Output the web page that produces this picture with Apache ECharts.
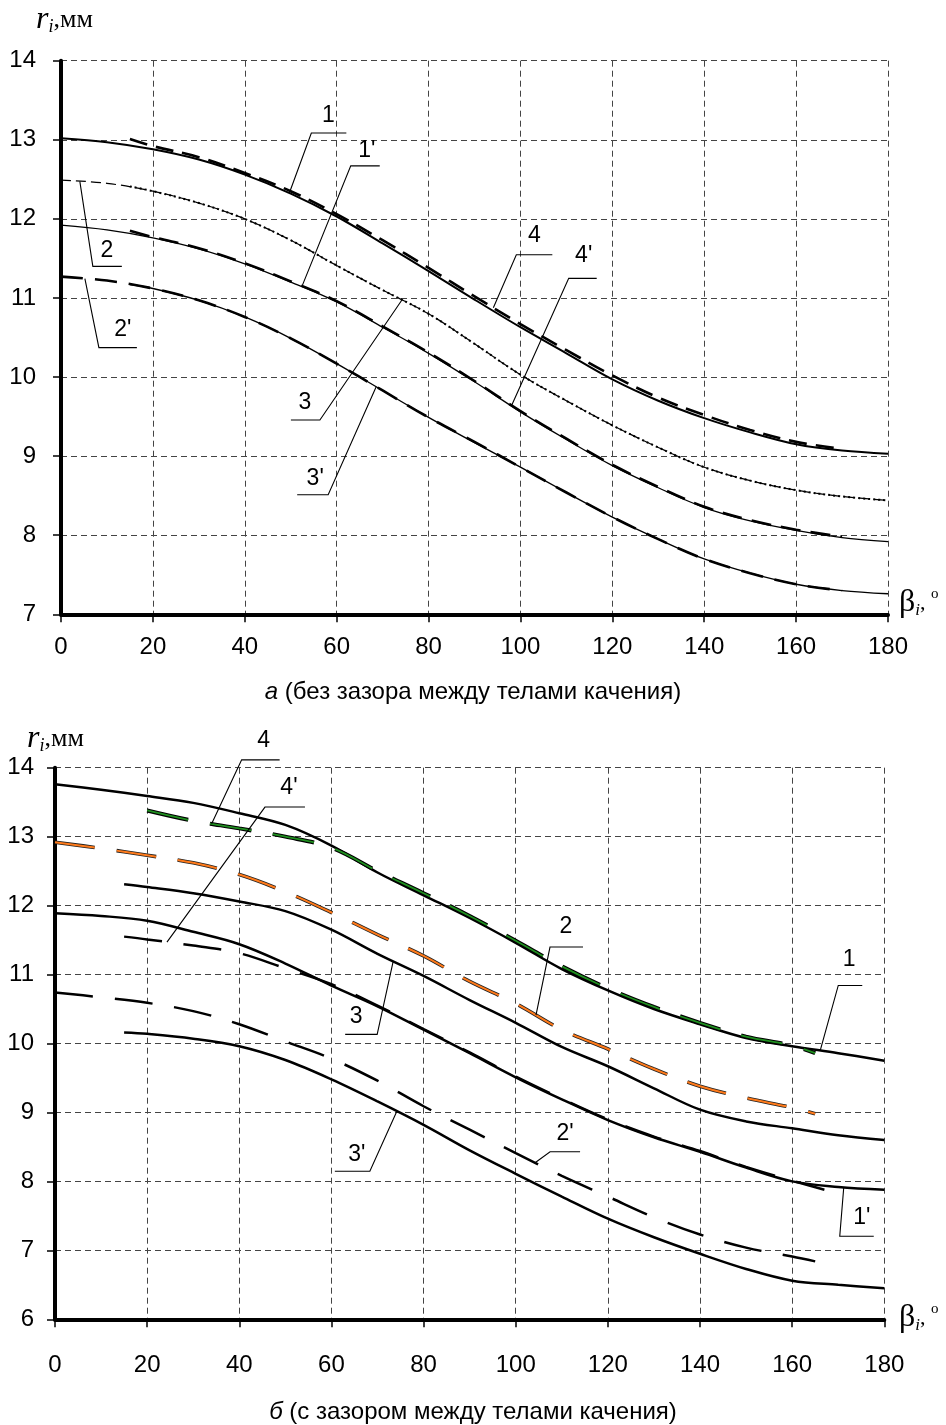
<!DOCTYPE html>
<html>
<head>
<meta charset="utf-8">
<script src="https://cdn.jsdelivr.net/npm/echarts@6/dist/echarts.min.js"></script>
<style>
html,body{margin:0;padding:0;background:#fff;}
#c{width:946px;height:1425px;}
</style>
</head>
<body>
<div id="c"></div>
<script>
// ---------- DATA ----------
const xTicks = [0, 20, 40, 60, 80, 100, 120, 140, 160, 180];
const yTicksA = [7, 8, 9, 10, 11, 12, 13, 14];
const yTicksB = [6, 7, 8, 9, 10, 11, 12, 13, 14];

// Chart "а" (без зазора)
const xA_full = [0,10,20,30,40,50,60,70,80,90,100,110,120,130,140,150,160,170,180];
const xA_15_170 = [15,20,30,40,50,60,70,80,90,100,110,120,130,140,150,160,170];
const xA_15_180 = [15,20,30,40,50,60,70,80,90,100,110,120,130,140,150,160,170,180];
const xA_0_170 = [0,10,20,30,40,50,60,70,80,90,100,110,120,130,140,150,160,170];

const a1  = [13.02,12.97,12.88,12.75,12.56,12.32,12.03,11.69,11.34,10.98,10.63,10.30,9.97,9.70,9.48,9.30,9.15,9.07,9.03];
const a4  = [13.01,12.92,12.78,12.58,12.35,12.06,11.73,11.38,11.02,10.67,10.34,10.02,9.74,9.52,9.33,9.18,9.09];
const a2  = [12.49,12.45,12.35,12.20,12.00,11.73,11.41,11.10,10.80,10.42,10.03,9.70,9.39,9.11,8.86,8.69,8.57,8.49,8.44];
const a3  = [12.41,12.35,12.20,12.00,11.73,11.41,11.10,10.80,10.42,10.03,9.70,9.39,9.11,8.86,8.69,8.57,8.49,8.44];
const a1p = [11.92,11.86,11.76,11.62,11.43,11.20,10.95,10.63,10.30,9.94,9.56,9.21,8.88,8.60,8.35,8.18,8.06,7.97,7.92];
const a4p = [11.85,11.77,11.63,11.44,11.21,10.96,10.64,10.31,9.95,9.57,9.22,8.89,8.61,8.36,8.19,8.07,7.98];
const a2p = [11.27,11.22,11.12,10.97,10.76,10.49,10.17,9.83,9.49,9.18,8.86,8.54,8.23,7.95,7.70,7.52,7.38,7.30];
const a3p = [11.17,11.12,10.97,10.76,10.49,10.17,9.83,9.49,9.17,8.86,8.54,8.23,7.95,7.70,7.52,7.38,7.30,7.26];

// Chart "б" (с зазором)
const xB_full = [0,10,20,30,40,50,60,70,80,90,100,110,120,130,140,150,160,170,180];
const xB4  = [20,30,40,50,60,70,80,90,100,110,120,130,140,150,160,165];
const xB2  = [0,10,20,30,40,50,60,70,80,90,100,110,120,130,140,150,160,165];
const xB3  = [15,20,30,40,50,60,70,80,90,100,110,120,130,140,150,160,170,180];
const xB4p = [15,20,30,40,50,60,70,80,90,100,110,120,130,140,150,160,167];
const xB2p = [0,10,20,30,40,50,60,70,80,90,100,110,120,130,140,150,160,165];
const xB3p = [15,20,30,40,50,60,70,80,90,100,110,120,130,140,150,160,170,180];

const b1  = [13.76,13.68,13.59,13.49,13.34,13.17,12.87,12.48,12.15,11.82,11.46,11.08,10.77,10.50,10.28,10.08,9.96,9.86,9.75];
const b4  = [13.38,13.23,13.12,13.00,12.84,12.50,12.18,11.85,11.49,11.12,10.80,10.53,10.30,10.10,9.97,9.86];
const b2  = [12.92,12.83,12.73,12.62,12.45,12.20,11.90,11.58,11.27,10.90,10.58,10.20,9.92,9.63,9.38,9.21,9.07,8.98];
const b3  = [12.31,12.27,12.18,12.06,11.92,11.65,11.30,10.98,10.63,10.30,9.95,9.67,9.35,9.04,8.87,8.77,8.67,8.60];
const b1p = [11.89,11.85,11.78,11.62,11.44,11.16,10.84,10.54,10.20,9.86,9.51,9.19,8.89,8.64,8.43,8.20,8.00,7.92,7.88];
const b4p = [11.55,11.51,11.42,11.31,11.09,10.86,10.55,10.21,9.87,9.52,9.20,8.90,8.65,8.44,8.21,8.01,7.88];
const b2p = [10.74,10.67,10.59,10.47,10.28,10.03,9.78,9.46,9.09,8.75,8.41,8.08,7.78,7.48,7.23,7.04,6.91,6.84];
const b3p = [10.16,10.14,10.07,9.96,9.76,9.48,9.16,8.82,8.45,8.11,7.78,7.46,7.19,6.95,6.73,6.56,6.50,6.45];

// Curve labels: text, curve it points to, abscissa of the pointed spot
const labelsA = [
  {t:'1',  curve:'a1',  x:49.7}, {t:"1'", curve:'a1p', x:52.4},
  {t:'2',  curve:'a2',  x:4.1},  {t:"2'", curve:'a2p', x:5.2},
  {t:'4',  curve:'a4',  x:94.1}, {t:"4'", curve:'a4p', x:98.1},
  {t:'3',  curve:'a3',  x:74.2}, {t:"3'", curve:'a3p', x:68.6}
];
const labelsB = [
  {t:'4',  curve:'b4',  x:34.0}, {t:"4'", curve:'b4p', x:24.3},
  {t:'3',  curve:'b3',  x:73.4}, {t:"3'", curve:'b3p', x:74.2},
  {t:'2',  curve:'b2',  x:104.4},{t:'1',  curve:'b1',  x:166.1},
  {t:"2'", curve:'b2p', x:104.2},{t:"1'", curve:'b1p', x:171.2}
];

// ---------- LAYOUT / STYLE ----------
const curves = {
  a1:[xA_full,a1], a4:[xA_15_170,a4], a2:[xA_full,a2], a3:[xA_15_180,a3],
  a1p:[xA_full,a1p], a4p:[xA_15_170,a4p], a2p:[xA_0_170,a2p], a3p:[xA_15_180,a3p],
  b1:[xB_full,b1], b4:[xB4,b4], b2:[xB2,b2], b3:[xB3,b3],
  b1p:[xB_full,b1p], b4p:[xB4p,b4p], b2p:[xB2p,b2p], b3p:[xB3p,b3p]
};
// leader geometry in pixels relative to pointed spot: elbow, underline end, text centre
const leaderA = [
  {e:[22,-60],  u:[57,-60],  tx:[39,-77]},
  {e:[49,-121], u:[78,-121], tx:[65,-136]},
  {e:[13,85],   u:[42,85],   tx:[27,69]},
  {e:[14,69],   u:[52,69],   tx:[38,51]},
  {e:[23,-53],  u:[59,-53],  tx:[41,-72]},
  {e:[57,-127], u:[85,-127], tx:[72,-150]},
  {e:[-82,120], u:[-111,120],tx:[-97,103]},
  {e:[-48,108], u:[-79,108], tx:[-61,92]}
];
const leaderB = [
  {e:[30,-64],  u:[68,-64],  tx:[52,-83]},
  {e:[98,-135], u:[138,-135],tx:[122,-154]},
  {e:[-16,73],  u:[-48,73],  tx:[-37,55]},
  {e:[-27,60],  u:[-62,60],  tx:[-40,43]},
  {e:[14,-68],  u:[47,-68],  tx:[30,-88]},
  {e:[18,-65],  u:[42,-65],  tx:[29,-91]},
  {e:[15,-11],  u:[45,-11],  tx:[30,-29]},
  {e:[-4,49],   u:[30,49],   tx:[18,30]}
];

function pairs(k){ const c = curves[k]; return c[0].map((x,i)=>[x, c[1][i]]); }
function interp(k, x){
  const xs = curves[k][0], ys = curves[k][1];
  for (let i=0;i<xs.length-1;i++){
    if (x>=xs[i] && x<=xs[i+1]){ const f=(x-xs[i])/(xs[i+1]-xs[i]); return ys[i]+f*(ys[i+1]-ys[i]); }
  }
  return x<xs[0]?ys[0]:ys[ys.length-1];
}

const SANS = '"Liberation Sans", Arial, sans-serif';
const SERIF = '"Liberation Serif", "Times New Roman", serif';
const GRIDLINE = {show:true, lineStyle:{color:'#444', width:1, type:[6,4]}};

function line(k, g, style, z){
  return {type:'line', name:k, xAxisIndex:g, yAxisIndex:g, data:pairs(k), smooth:0.35,
    showSymbol:false, symbol:'none', silent:true, z:z||2, lineStyle:style, animation:false};
}

function annSeries(g, labels, leaders){
  return {
    type:'custom', xAxisIndex:g, yAxisIndex:g, clip:false, silent:true, z:20, animation:false,
    encode:{x:0, y:1},
    data: labels.map(l => [l.x, interp(l.curve, l.x)]),
    renderItem: function(params, api){
      const p = api.coord([api.value(0), api.value(1)]);
      const L = leaders[params.dataIndex];
      const ex = p[0]+L.e[0], ey = p[1]+L.e[1];
      return {type:'group', children:[
        {type:'polyline', shape:{points:[[p[0],p[1]],[ex,ey],[p[0]+L.u[0],ey]]},
          style:{stroke:'#000', lineWidth:1.1, fill:null}},
        {type:'text', x:p[0]+L.tx[0], y:p[1]+L.tx[1],
          style:{text:labels[params.dataIndex].t, align:'center', verticalAlign:'middle',
            font:'23px ' + SANS, fill:'#000'}}
      ]};
    }
  };
}

function xAxisCfg(g){
  return {
    type:'value', gridIndex:g, min:0, max:180, interval:20,
    axisLine:{show:true, onZero:false, lineStyle:{color:'#000', width:4}},
    axisTick:{show:true, length:8, lineStyle:{color:'#000', width:1.5}},
    axisLabel:{color:'#000', fontSize:24, fontFamily:SANS, margin: g===0?21:34,
      formatter: v => xTicks.includes(v) ? String(v) : ''},
    splitLine:GRIDLINE
  };
}
function yAxisCfg(g, min, ticks, margin){
  return {
    type:'value', gridIndex:g, min:min, max:14, interval:1,
    axisLine:{show:true, onZero:false, lineStyle:{color:'#000', width:4}},
    axisTick:{show:true, length:8, lineStyle:{color:'#000', width:1.5}},
    axisLabel:{color:'#000', fontSize:24, fontFamily:SANS, margin:margin,
      formatter: v => ticks.includes(v) ? String(v) : ''},
    splitLine:GRIDLINE
  };
}

const richR = {
  r:{fontFamily:SERIF, fontStyle:'italic', fontWeight:'normal', fontSize:32, lineHeight:32, verticalAlign:'middle', color:'#000'},
  i:{fontFamily:SERIF, fontStyle:'italic', fontWeight:'normal', fontSize:18, lineHeight:16, verticalAlign:'bottom', color:'#000'},
  t:{fontFamily:SERIF, fontWeight:'normal', fontSize:26, lineHeight:32, verticalAlign:'middle', color:'#000'}
};
const richB = {
  b:{fontFamily:SERIF, fontWeight:'normal', fontSize:32, lineHeight:32, verticalAlign:'middle', color:'#000'},
  i:{fontFamily:SERIF, fontStyle:'italic', fontWeight:'normal', fontSize:17, lineHeight:15, verticalAlign:'bottom', color:'#000'},
  t:{fontFamily:SERIF, fontWeight:'normal', fontSize:22, lineHeight:32, verticalAlign:'middle', color:'#000'},
  o:{fontFamily:SERIF, fontWeight:'normal', fontSize:15, lineHeight:15, verticalAlign:'top', color:'#000'}
};
const nameStyle = (rich) => ({fontWeight:'normal', color:'#000', rich:rich});
const subStyle = {color:'#000', fontSize:24, fontWeight:'normal', fontFamily:SANS,
  rich:{i:{fontStyle:'italic', fontWeight:'normal', fontSize:24, fontFamily:SANS, color:'#000'}}};

const chart = echarts.init(document.getElementById('c'), null, {renderer:'canvas'});
const option = {
  animation:false,
  backgroundColor:'#fff',
  title:[
    {text:'{i|а} (без зазора между телами качения)', left:'center', top:680, padding:0, textStyle:subStyle},
    {text:'{i|б} (с зазором между телами качения)', left:'center', top:1400, padding:0, textStyle:subStyle},
    {text:'{r|r}{i|i}{t|,мм}', left:36, top:4, padding:0, textStyle:nameStyle(richR)},
    {text:'{r|r}{i|i}{t|,мм}', left:27, top:723, padding:0, textStyle:nameStyle(richR)},
    {text:'{b|β}{i|i}{t|, }{o|o}', left:899, top:587, padding:0, textStyle:nameStyle(richB)},
    {text:'{b|β}{i|i}{t|, }{o|o}', left:899, top:1302, padding:0, textStyle:nameStyle(richB)}
  ],
  grid:[
    {left:61, width:827, top:60.7, height:553.6},
    {left:55, width:829.3, top:767.7, height:551.6}
  ],
  xAxis:[ xAxisCfg(0), xAxisCfg(1) ],
  yAxis:[ yAxisCfg(0, 7, yTicksA, 25), yAxisCfg(1, 6, yTicksB, 21) ],
  series:[
    // chart а
    line('a1', 0, {color:'#000', width:2}),
    line('a4', 0, {color:'#000', width:2.6, type:[18,9]}, 3),
    line('a2', 0, {color:'#000', width:1.2, type:[10,5]}),
    line('a3', 0, {color:'#000', width:2, type:[2,3]}, 3),
    line('a1p', 0, {color:'#000', width:1.3}),
    line('a4p', 0, {color:'#000', width:2.6, type:[20,10]}, 3),
    line('a2p', 0, {color:'#000', width:2.6, type:[22,12]}, 3),
    line('a3p', 0, {color:'#000', width:1.4}),
    annSeries(0, labelsA, leaderA),
    // chart б
    line('b1', 1, {color:'#000', width:2.5}),
    line('b4', 1, {color:'#000', width:4, type:[42,22]}, 3),
    Object.assign(line('b4', 1, {color:'#1f8f1f', width:1.8, type:[42,22]}, 4), {name:'b4g'}),
    line('b2', 1, {color:'#222', width:3.6, type:[40,22]}, 3),
    Object.assign(line('b2', 1, {color:'#ff7a1a', width:2, type:[40,22]}, 4), {name:'b2o'}),
    line('b3', 1, {color:'#000', width:2.5}),
    line('b1p', 1, {color:'#000', width:2.5}),
    line('b4p', 1, {color:'#000', width:2.5, type:[38,22]}, 3),
    line('b2p', 1, {color:'#000', width:2.5, type:[38,22]}, 3),
    line('b3p', 1, {color:'#000', width:2.5}),
    annSeries(1, labelsB, leaderB)
  ]
};
chart.setOption(option);
</script>
</body>
</html>
